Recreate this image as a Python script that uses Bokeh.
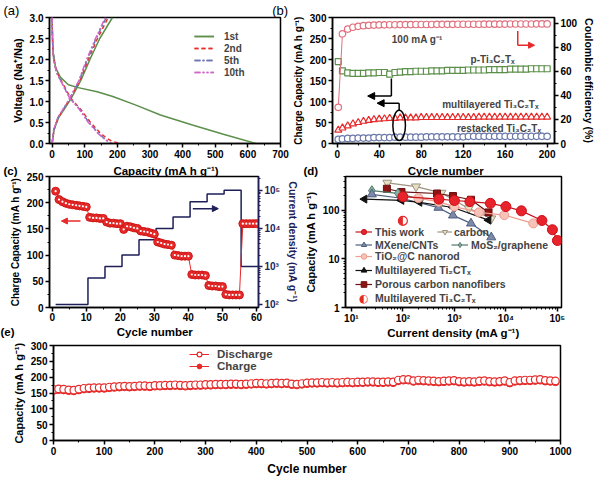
import math
from bokeh.plotting import figure
from bokeh.layouts import column, row
from bokeh.models import (Range1d, LinearAxis, LogAxis, LogScale, Legend, LegendItem,
                          Label, Arrow, NormalHead, FixedTicker, PrintfTickFormatter, Title)
from bokeh.embed import file_html
from bokeh.resources import INLINE

FONT = "Liberation Sans"
SX = 598 / 615
SY = 478 / 495
NB = "\u00a0"


def X(v):
    return int(round(v * SX))


def Y(v):
    return int(round(v * SY))


# ---------------- (a) charge/discharge profiles ----------------
a_dis1_cap = [0, 1, 3, 11, 25, 50, 80, 138, 186, 255, 332, 430, 525, 625]
a_dis1_v = [3.0, 2.55, 2.18, 1.80, 1.58, 1.40, 1.33, 1.23, 1.12, 0.92, 0.68, 0.44, 0.22, 0.0]
a_dis_v = [3.0, 2.6, 2.3, 2.0, 1.7, 1.47, 1.25, 1.08, 0.81, 0.51, 0.26, 0.12, 0.05, 0.0]
a_dis2_cap = [0, 1, 2, 5, 14, 30, 45, 57, 88, 117, 146, 168, 185, 207]
a_dis5_cap = [0, 1, 2, 5, 13, 28, 43, 55, 85, 112, 140, 160, 172, 183]
a_dis10_cap = [0, 1, 2, 5, 13, 28, 42, 54, 84, 110, 138, 158, 170, 181]
a_chg_v = [0.0, 0.33, 0.62, 0.85, 1.08, 1.5, 2.02, 2.5, 3.0]
a_chg1_cap = [0, 6, 20, 40, 59, 88, 117, 146, 185]
a_chg2_cap = [0, 6, 19, 38, 56, 85, 112, 139, 172]
a_chg5_cap = [0, 5, 18, 37, 55, 83, 109, 135, 166]
a_chg10_cap = [0, 5, 18, 36, 54, 82, 107, 133, 163]
a_labels = ["1st", "2nd", "5th", "10th"]

# ---------------- (b) cycling at 100 mA/g ----------------
b_cycles = [1, 5, 10, 15, 20, 25, 30, 35, 40, 45, 50, 55, 60, 65, 70, 75, 80, 85, 90, 95, 100,
            105, 110, 115, 120, 125, 130, 135, 140, 145, 150, 155, 160, 165, 170, 175, 180, 185,
            190, 195, 200]
b_p_ti3c2 = [195, 173, 168, 167, 167, 167, 168, 168, 169, 169, 165, 169, 170, 171, 171, 172, 172,
             172, 173, 173, 173, 174, 174, 174, 174, 175, 175, 175, 175, 176, 176, 176, 176, 177,
             177, 177, 177, 178, 178, 178, 178]
b_ce = [30, 91, 95, 96.5, 97.3, 97.8, 98.1, 98.3, 98.4, 98.5, 98.6, 98.6, 98.7, 98.7, 98.7, 98.8,
        98.8, 98.8, 98.8, 98.9, 98.9, 98.9, 98.9, 99.0, 99.0, 99.0, 99.0, 99.0, 99.1, 99.1, 99.1,
        99.1, 99.1, 99.2, 99.2, 99.2, 99.2, 99.2, 99.3, 99.3, 99.3]
b_multi = [32, 37, 42, 47, 50, 53, 55, 57, 58, 59, 60, 60, 61, 61, 61, 61, 62, 62, 62, 62, 62,
           62, 62, 62, 62, 62, 62, 63, 63, 63, 63, 63, 63, 63, 63, 63, 63, 63, 63, 63, 63]
b_restack = [10, 11, 12, 12, 13, 13, 13, 14, 14, 14, 14, 15, 15, 15, 15, 15, 15, 16, 16, 16, 16,
             16, 16, 16, 16, 17, 17, 17, 17, 17, 17, 17, 17, 17, 17, 17, 17, 17, 17, 17, 17]

# ---------------- (c) rate capability ----------------
c_cycles = [1, 2, 3, 4, 5, 6, 7, 8, 9, 10, 11, 12, 13, 14, 15, 16, 17, 18, 19, 20,
            21, 22, 23, 24, 25, 26, 27, 28, 29, 30, 31, 32, 33, 34, 35, 36, 37, 38, 39, 40,
            41, 42, 43, 44, 45, 46, 47, 48, 49, 50, 51, 52, 53, 54, 55, 56, 57, 58, 59, 60]
c_capacity = [222, 206, 202, 199, 197, 196, 195, 194, 193, 192,
              172, 171, 171, 170, 170, 163, 161, 161, 160, 160,
              149, 155, 154, 152, 151, 146, 145, 144, 142, 140,
              125, 123, 121, 120, 119, 100, 99, 98, 98, 98,
              63, 62, 62, 62, 61, 42, 41, 41, 40, 40,
              25, 24, 24, 24, 24, 160, 160, 160, 160, 160]
c_step_edges = [1, 10.5, 15.5, 20.5, 25.5, 30.5, 35.5, 40.5, 45.5, 50.5, 55.5, 60.5]
c_current = [100, 500, 1000, 2000, 5000, 10000, 20000, 50000, 80000, 100000, 1000, 1000]

# ---------------- (d) comparison (log-log) ----------------
d_this_x = [100, 500, 1000, 2000, 5000, 10000, 20000, 50000, 80000, 100000]
d_this_y = [192, 171, 160, 152, 140, 120, 98, 62, 40, 24]
d_carbon_x = [50, 180, 560, 1900, 5200]
d_carbon_y = [370, 310, 230, 110, 68]
d_mxene_x = [25, 94, 490, 940, 2100, 5200]
d_mxene_y = [215, 178, 114, 79, 54, 28]
d_mos2_x = [25, 80, 220]
d_mos2_y = [255, 225, 170]
d_tio2_x = [200, 500, 1000, 3000, 9300, 34000]
d_tio2_y = [180, 150, 120, 91, 80, 54]
d_ti2c_x = [18, 94, 210, 940, 4600]
d_ti2c_y = [171, 161, 147, 115, 63]
d_pcnf_x = [49, 94, 460, 940, 2100, 4600]
d_pcnf_y = [280, 240, 223, 198, 166, 91]
d_ml_x = [100]
d_ml_y = [61]

# ---------------- (e) long cycling ----------------
e_cycles = [1] + list(range(10, 1000, 10))
e_charge = [158, 160, 159, 157, 156, 159, 162, 163, 164, 164,
            164, 166, 167, 168, 169, 168, 169, 170, 170, 169,
            171, 171, 172, 172, 173, 172, 171, 172, 173, 173,
            174, 174, 175, 175, 175, 176, 176, 175, 176, 177,
            178, 178, 177, 178, 179, 178, 179, 176, 175, 177,
            179, 180, 180, 181, 180, 181, 180, 181, 182, 181,
            182, 182, 183, 183, 182, 182, 183, 182, 188, 190,
            190, 186, 188, 187, 186, 185, 184, 185, 186, 187,
            184, 183, 184, 183, 185, 186, 184, 183, 184, 186,
            181, 186, 187, 188, 188, 189, 190, 187, 186, 185]
e_discharge = [161, 163, 162, 160, 159, 162, 165, 166, 167, 167,
               167, 169, 170, 171, 172, 171, 172, 173, 173, 172,
               174, 174, 175, 175, 176, 175, 174, 175, 176, 176,
               177, 177, 178, 178, 178, 179, 179, 178, 179, 180,
               181, 181, 180, 181, 182, 181, 182, 179, 178, 180,
               182, 183, 183, 184, 183, 184, 183, 184, 185, 184,
               185, 185, 186, 186, 185, 185, 186, 185, 191, 193,
               193, 189, 191, 190, 189, 188, 187, 188, 189, 190,
               187, 186, 187, 186, 188, 189, 187, 186, 187, 189,
               184, 189, 190, 191, 191, 192, 193, 190, 189, 188]

GREEN = "#5c8f4a"
RED = "#e62a2a"
PINK = "#e0707e"
SLATE = "#6b78a8"
NAVY = "#1e1e58"


def make_fig(box, frame, **kw):
    x0, x1, y0, y1 = box
    fl, fr, ft, fb = frame
    p = figure(width=X(x1) - X(x0), height=Y(y1) - Y(y0), title=None,
               min_border_left=X(fl) - X(x0), min_border_right=X(x1) - X(fr),
               min_border_top=Y(ft) - Y(y0), min_border_bottom=Y(y1) - Y(fb),
               output_backend="svg", toolbar_location=None, **kw)
    p.xgrid.visible = False
    p.ygrid.visible = False
    p.outline_line_color = "black"
    p.outline_line_width = 1.5
    p.outline_line_alpha = 1.0
    p.background_fill_color = "white"
    p.border_fill_color = "white"
    return p


def style_axis(ax, color="black", label_size="11px", tick_size="10px", lab_standoff=3, tick_standoff=2):
    ax.axis_line_color = color
    ax.axis_line_width = 1.5
    ax.major_tick_line_color = color
    ax.major_tick_line_width = 1.5
    ax.minor_tick_line_color = color
    ax.minor_tick_line_width = 1
    ax.major_tick_out = 4
    ax.major_tick_in = 0
    ax.minor_tick_out = 2
    ax.minor_tick_in = 0
    ax.major_label_text_font = FONT
    ax.major_label_text_font_style = "bold"
    ax.major_label_text_font_size = tick_size
    ax.major_label_text_color = color
    ax.axis_label_text_font = FONT
    ax.axis_label_text_font_style = "bold"
    ax.axis_label_text_font_size = label_size
    ax.axis_label_text_color = color
    ax.major_label_standoff = tick_standoff
    ax.axis_label_standoff = lab_standoff


def add_title(p, frame, text, x_ref, side="above", size="13px", bold=False):
    # panel letters and shared-band axis titles live in the side panels (not clipped)
    t = Title(text=text, align="left", offset=X(x_ref) - X(frame[0]), standoff=0,
              text_font=FONT, text_font_size=size,
              text_font_style="bold" if bold else "normal", text_color="black")
    p.add_layout(t, side)


def add_text_in(p, frame, text, xr, yr, size="11px", color="black", font=FONT):
    sx, sy = X(xr) - X(frame[0]), Y(frame[3]) - Y(yr)
    p.add_layout(Label(x=sx, y=sy, x_units="screen", y_units="screen", text=text,
                       text_font=font, text_font_size=size, text_color=color,
                       text_align="center", text_baseline="middle"))


def add_legend(p, frame, items, x_ref, top_ref, row_h, size, glyph_w, standoff):
    n = len(items)
    sx = X(x_ref) - X(frame[0])
    sy = Y(frame[3]) - Y(top_ref + n * row_h)
    h = int(round(row_h * SY))
    leg = Legend(items=items, location=(sx, sy), orientation="vertical",
                 padding=0, margin=0, spacing=0, label_height=h, glyph_height=h,
                 glyph_width=glyph_w, label_standoff=standoff,
                 border_line_alpha=0, background_fill_alpha=0,
                 label_text_font=FONT, label_text_font_style="bold",
                 label_text_font_size=size)
    p.add_layout(leg)


def super_map(vals):
    sup = {"1": "¹", "2": "²", "3": "³", "4": "⁴", "5": "⁵"}
    out = {}
    for v in vals:
        e = str(int(round(math.log10(v))))
        out[v] = "10" + sup[e]
    return out


# ======================= panel (a) =======================
A_BOX = (0, 297, 0, 168)
A_FR = (50, 288, 12, 148)
pa = make_fig(A_BOX, A_FR, x_range=Range1d(-8, 700), y_range=Range1d(0, 3.0))
for ax in pa.axis:
    style_axis(ax)
pa.xaxis.ticker = FixedTicker(ticks=[0, 100, 200, 300, 400, 500, 600, 700],
                              minor_ticks=[50, 150, 250, 350, 450, 550, 650])
pa.yaxis.ticker = FixedTicker(ticks=[0, 0.5, 1.0, 1.5, 2.0, 2.5, 3.0],
                              minor_ticks=[0.25, 0.75, 1.25, 1.75, 2.25, 2.75])
pa.yaxis.formatter = PrintfTickFormatter(format="%.1f")
pa.yaxis.axis_label = "Voltage (Na⁺/Na)"

styles = [(GREEN, "solid"), ("#e8302e", "4 3"), ("#6a74b0", "6 2 2 2"), ("#d465c8", "6 2 2 2 2 2")]
dis_caps = [a_dis1_cap, a_dis2_cap, a_dis5_cap, a_dis10_cap]
dis_vs = [a_dis1_v, a_dis_v, a_dis_v, a_dis_v]
chg_caps = [a_chg1_cap, a_chg2_cap, a_chg5_cap, a_chg10_cap]
a_items = []
for i in range(4):
    col, dash = styles[i]
    r1 = pa.line(dis_caps[i], dis_vs[i], line_color=col, line_width=1.5, line_dash=dash)
    r2 = pa.line(chg_caps[i], a_chg_v, line_color=col, line_width=1.5, line_dash=dash)
    a_items.append(LegendItem(label=a_labels[i], renderers=[r1, r2]))
add_legend(pa, A_FR, a_items, 200, 32, 12.3, "10px", 20, 10)
# letters (a) and (b) share the band above panel (a)
add_title(pa, A_FR, "(a)" + NB * 70 + "(b)", 3)

# ======================= panel (b) =======================
B_BOX = (297, 615, 0, 168)
B_FR = (337, 575, 13, 150)
pb = make_fig(B_BOX, B_FR, x_range=Range1d(-4.5, 207), y_range=Range1d(0, 300))
pb.extra_y_ranges = {"ce": Range1d(0, 104.6)}
pb.add_layout(LinearAxis(y_range_name="ce"), "right")
for ax in pb.axis:
    style_axis(ax, label_size="10px")
pb.xaxis.ticker = FixedTicker(ticks=[0, 40, 80, 120, 160, 200], minor_ticks=[20, 60, 100, 140, 180])
pb.yaxis[0].ticker = FixedTicker(ticks=[0, 50, 100, 150, 200, 250, 300],
                                 minor_ticks=[25, 75, 125, 175, 225, 275])
pb.yaxis[1].ticker = FixedTicker(ticks=[0, 20, 40, 60, 80, 100], minor_ticks=[10, 30, 50, 70, 90])
pb.yaxis[0].axis_label = "Charge Capacity (mA h g⁻¹)"
pb.yaxis[1].axis_label = "Coulombic efficiency (%)"
pb.yaxis[1].axis_label_text_font_size = "10.5px"

pb.line(b_cycles, b_p_ti3c2, line_color=GREEN, line_width=1)
pb.scatter(b_cycles, b_p_ti3c2, marker="square", size=6, line_color=GREEN, fill_color="white", line_width=1.2)
pb.line(b_cycles, b_ce, y_range_name="ce", line_color=PINK, line_width=1)
pb.scatter(b_cycles, b_ce, y_range_name="ce", marker="circle", size=6.5, line_color=PINK,
           fill_color="white", line_width=1.2)
pb.line(b_cycles, b_multi, line_color=RED, line_width=1)
pb.scatter(b_cycles, b_multi, marker="triangle", size=7, line_color=RED, fill_color="white", line_width=1.2)
pb.line(b_cycles, b_restack, line_color=SLATE, line_width=1)
pb.scatter(b_cycles, b_restack, marker="circle", size=6.5, line_color=SLATE, fill_color="white", line_width=1.2)

# annotations of (b)
pb.line([51.6, 51.6], [155, 113], line_color="black", line_width=1.5)
pb.add_layout(Arrow(x_start=51.6, y_start=113, x_end=29, y_end=113, line_width=1.5,
                    end=NormalHead(size=7, fill_color="black", line_color="black")))
pb.line([59, 59], [78, 96], line_color="black", line_width=1.5)
pb.add_layout(Arrow(x_start=59, y_start=96, x_end=38, y_end=96, line_width=1.5,
                    end=NormalHead(size=7, fill_color="black", line_color="black")))
pb.ellipse(x=[59], y=[43], width=12, height=72, fill_alpha=0, line_color="black", line_width=1.5)
pb.line([172, 172], [268, 234], line_color=RED, line_width=1.5)
pb.add_layout(Arrow(x_start=172, y_start=234, x_end=188, y_end=234, line_width=1.5, line_color=RED,
                    end=NormalHead(size=6, fill_color=RED, line_color=RED)))
for tx, ty, tt in [(52, 247, "100 mA g⁻¹"), (127, 201, "p-Ti₃C₂Tₓ"),
                   (100, 92, "multilayered Ti₃C₂Tₓ"), (114, 35, "restacked Ti₃C₂Tₓ")]:
    pb.add_layout(Label(x=tx, y=ty, text=tt, text_font=FONT, text_font_size="10px",
                        text_font_style="bold", text_baseline="middle"))

# ======================= panel (c) =======================
C_BOX = (0, 310, 168, 353)
C_FR = (50, 268, 182, 318)
pc = make_fig(C_BOX, C_FR, x_range=Range1d(-0.8, 60.6), y_range=Range1d(0, 250))
pc.extra_y_ranges = {"cd": Range1d(84, 2.3e5)}
pc.extra_y_scales = {"cd": LogScale()}
cd_axis = LogAxis(y_range_name="cd")
pc.add_layout(cd_axis, "right")
for ax in pc.axis:
    style_axis(ax, label_size="10px")
style_axis(cd_axis, color=NAVY, label_size="10.5px")
pc.xaxis.major_label_standoff = 1
pc.xaxis.ticker = FixedTicker(ticks=[0, 10, 20, 30, 40, 50, 60], minor_ticks=[5, 15, 25, 35, 45, 55])
pc.yaxis[0].ticker = FixedTicker(ticks=[0, 50, 100, 150, 200, 250], minor_ticks=[25, 75, 125, 175, 225])
cd_ticks = [100, 1000, 10000, 100000]
cd_minor = [m * d for d in [100, 1000, 10000] for m in range(2, 10)] + [200000]
cd_axis.ticker = FixedTicker(ticks=cd_ticks, minor_ticks=cd_minor)
cd_axis.major_label_overrides = super_map(cd_ticks)
pc.yaxis[0].axis_label = "Charge Capacity (mA h g⁻¹)"
cd_axis.axis_label = "Current density (mA g⁻¹)"
# x-title of panel (a) and letter (c) share the band above panel (c)
add_title(pc, C_FR, "(c)" + NB * 30 + "Capacity (mA h g⁻¹)", 3, "above", "11.5px", True)
# letter (e) and x-title of panel (c) share the band below panel (c)
add_title(pc, C_FR, "(e)" + NB * 32 + "Cycle number", 0, "below", "11.5px", True)

pc.step(c_step_edges, c_current, mode="after", y_range_name="cd", line_color=NAVY, line_width=1.5)
pc.line(c_cycles, c_capacity, line_color=RED, line_width=1)
pc.scatter(c_cycles, c_capacity, marker="circle", size=8, fill_color=RED, line_color="#d01818", line_width=1)
pc.scatter(c_cycles, c_capacity, marker="circle", size=2.2, fill_color="white", line_alpha=0)
pc.add_layout(Arrow(x_start=8.3, y_start=165, x_end=2.7, y_end=165, line_width=1.5, line_color=RED,
                    end=NormalHead(size=6, fill_color=RED, line_color=RED)))
pc.add_layout(Arrow(x_start=41.3, y_start=33000, x_end=48.8, y_end=33000, y_range_name="cd",
                    line_width=1.5, line_color=NAVY,
                    end=NormalHead(size=6, fill_color=NAVY, line_color=NAVY)))

# ======================= panel (d) =======================
D_BOX = (310, 615, 168, 353)
D_FR = (353, 577, 182, 318)
pdd = make_fig(D_BOX, D_FR, x_axis_type="log", y_axis_type="log",
               x_range=Range1d(7.7, 1.2e5), y_range=Range1d(1, 500))
for ax in pdd.axis:
    style_axis(ax)
x_ticks = [10, 100, 1000, 10000, 100000]
pdd.xaxis.ticker = FixedTicker(ticks=x_ticks,
                               minor_ticks=[m * d for d in [10, 100, 1000, 10000] for m in range(2, 10)])
pdd.xaxis.major_label_overrides = super_map(x_ticks)
pdd.xaxis.major_label_standoff = 1
pdd.yaxis.ticker = FixedTicker(ticks=[1, 10, 100],
                               minor_ticks=[m * d for d in [1, 10, 100] for m in range(2, 10) if m * d <= 500])
pdd.yaxis.major_label_overrides = {1: "1", 10: "10", 100: "100"}
pdd.xaxis.axis_label = "Current density (mA g⁻¹)"
pdd.xaxis.axis_label_text_font_size = "11.5px"
pdd.xaxis.axis_label_standoff = 0
pdd.yaxis.axis_label = "Capacity (mA h g⁻¹)"
# letter (d) and x-title of panel (b) share the band above panel (d)
add_title(pdd, D_FR, "(d)" + NB * 28 + "Cycle number", 310, "above", "11.5px", True)


def series(p, xs, ys, marker, fill, line, size=9, angle=0.0):
    l = p.line(xs, ys, line_color=line, line_width=1.2)
    s = p.scatter(xs, ys, marker=marker, size=size, fill_color=fill, line_color=line, line_width=1, angle=angle)
    return [l, s]


r_carbon = series(pdd, d_carbon_x, d_carbon_y, "inverted_triangle", "#e6dfc4", "#9b9480")
r_pcnf = series(pdd, d_pcnf_x, d_pcnf_y, "square", "#8e1414", "#6a1010", size=7)
r_mos2 = series(pdd, d_mos2_x, d_mos2_y, "diamond", "#88b0a0", "#557a6a", size=10)
r_mxene = series(pdd, d_mxene_x, d_mxene_y, "triangle", "#7c89a8", "#4f5f80")
r_ti2c = series(pdd, d_ti2c_x, d_ti2c_y, "triangle", "#111111", "#111111", size=8, angle=math.pi / 2)
r_tio2 = series(pdd, d_tio2_x, d_tio2_y, "circle", "#f7c2b8", "#ee9c8c", size=9)
r_this = series(pdd, d_this_x, d_this_y, "circle", "#e8232b", "#c81018", size=10)
pdd.wedge(x=d_ml_x, y=d_ml_y, radius=4.5, radius_units="screen", start_angle=math.pi / 2,
          end_angle=3 * math.pi / 2, fill_color=RED, line_alpha=0)
pdd.scatter(d_ml_x, d_ml_y, marker="circle", size=9, fill_alpha=0, line_color=RED, line_width=1.2)
r_inv = pdd.scatter([], [], marker="circle", size=1, alpha=0)

add_legend(pdd, D_FR, [LegendItem(label="This work", renderers=r_this),
                       LegendItem(label="MXene/CNTs", renderers=r_mxene)], 363, 233.5, 13, "10.5px", 17, 3)
add_legend(pdd, D_FR, [LegendItem(label="carbon", renderers=r_carbon)], 447, 233.5, 13, "10.5px", 15, 2)
add_legend(pdd, D_FR, [LegendItem(label="MoS₂/graphene", renderers=r_mos2)], 462, 246.5, 13, "10.5px", 17, 3)
add_legend(pdd, D_FR, [LegendItem(label="TiO₂@C nanorod", renderers=r_tio2),
                       LegendItem(label="Multilayered Ti₂CTₓ", renderers=r_ti2c),
                       LegendItem(label="Porous carbon nanofibers", renderers=r_pcnf),
                       LegendItem(label="Multilayered Ti₃C₂Tₓ", renderers=[r_inv])],
           363, 260, 14, "10.5px", 17, 3)
add_text_in(pdd, D_FR, "◐", 371, 309, size="11px", color=RED, font="DejaVu Sans")

# ======================= panel (e) =======================
E_BOX = (0, 615, 353, 495)
E_FR = (54, 576, 357, 459)
pe = make_fig(E_BOX, E_FR, x_range=Range1d(0, 1000), y_range=Range1d(0, 300))
for ax in pe.axis:
    style_axis(ax, label_size="12px")
pe.yaxis.axis_label_text_font_size = "11px"
pe.xaxis.ticker = FixedTicker(ticks=list(range(0, 1001, 100)), minor_ticks=list(range(50, 1000, 100)))
pe.yaxis.ticker = FixedTicker(ticks=[0, 50, 100, 150, 200, 250, 300], minor_ticks=[25, 75, 125, 175, 225, 275])
pe.xaxis.axis_label = "Cycle number"
pe.yaxis.axis_label = "Capacity (mA h g⁻¹)"
pe.xaxis.axis_label_standoff = 4

ec_l = pe.line(e_cycles, e_charge, line_color=RED, line_width=1)
ec_s = pe.scatter(e_cycles, e_charge, marker="circle", size=7.5, fill_color=RED, line_color=RED)
ed_l = pe.line(e_cycles, e_discharge, line_color=RED, line_width=1)
ed_s = pe.scatter(e_cycles, e_discharge, marker="circle", size=7.5, fill_color="white", line_color=RED, line_width=1.2)
add_legend(pe, E_FR, [LegendItem(label="Discharge", renderers=[ed_l, ed_s]),
                      LegendItem(label="Charge", renderers=[ec_l, ec_s])], 194, 364, 12, "11.5px", 20, 8)

layout = column(row(pa, pb), row(pc, pdd), pe)
open("out.html", "w").write(file_html(layout, INLINE))
